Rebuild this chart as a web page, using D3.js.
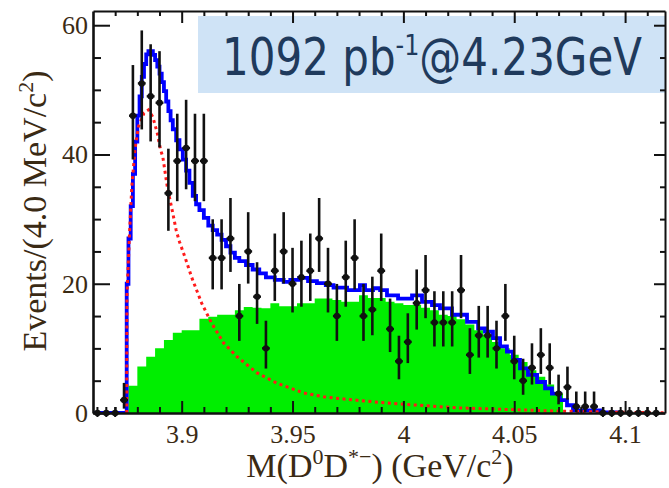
<!DOCTYPE html>
<html>
<head>
<meta charset="utf-8">
<script src="https://cdn.jsdelivr.net/npm/d3@7"></script>
<style>
  html, body { margin: 0; padding: 0; background: #fff; }
  svg { display: block; }
</style>
</head>
<body>
<div id="chart"></div>
<script>
// bins of 4 MeV, first centre at 3.862 GeV
const BIN_WIDTH = 0.004;
const DATA_FIRST_CENTRE = 3.862;
const dataCounts = [
  0, 0, 0, 2, 46, 51, 49, 48, 34, 39,
  41, 39, 39, 24, 24, 27, 15, 25, 18, 10,
  22, 25, 20, 21, 22, 27, 20, 15, 21, 24,
  15, 16, 22, 13, 8, 11, 17, 19, 14, 14,
  14, 19, 9, 12, 12, 10, 15, 8, 5, 7,
  9, 7, 3, 4, 1, 1, 1, 0, 0, 0,
  0, 0, 0, 0
];

// green background histogram (same binning, first left edge 3.876)
const BKG_FIRST_EDGE = 3.876;
const bkgValues = [
  4.2, 7.2, 8.7, 10, 11.3, 12.4, 12.8, 12.8, 14.6, 14.9,
  15.2, 15.2, 15.9, 16.4, 16.3, 16.2, 17.0, 16.5, 16.5, 17.0,
  17.0, 17.7, 17.7, 17.5, 17.2, 17.2, 18.2, 17.8, 17.8, 17.2,
  17.0, 16.7, 16.7, 16.3, 15.9, 15.2, 15.0, 14.5, 13.7, 12.8,
  12.1, 11.0, 10.0, 9.0, 7.9, 6.6, 5.6, 4.4, 3.0
];

// total fit (blue), [mass, events]
const fitTotal = [
  [3.8600, 0], [3.8751, 0], [3.8752, 20], [3.8760, 27], [3.8770, 32], [3.8780, 37],
  [3.8790, 42], [3.8800, 46], [3.8810, 49], [3.8820, 52], [3.8830, 54],
  [3.8840, 55.5], [3.8850, 56], [3.8860, 56], [3.8870, 55.4], [3.8880, 54.6],
  [3.8890, 53.6], [3.8900, 52.5], [3.8910, 51.2], [3.8920, 49.8], [3.8930, 48.2],
  [3.8940, 46.7], [3.8950, 45.3], [3.8960, 43.9], [3.8975, 42.2], [3.8990, 40.8],
  [3.9005, 39.2], [3.9020, 37.5], [3.9035, 35.6], [3.9050, 33.6], [3.9065, 32.3],
  [3.9080, 31.4], [3.9100, 30.2], [3.9120, 29.0], [3.9140, 28.3], [3.9160, 27.6],
  [3.9180, 26.8], [3.9200, 25.8], [3.9220, 24.8], [3.9240, 24.0], [3.9260, 23.5],
  [3.9290, 22.9], [3.9320, 22.2], [3.9350, 21.6], [3.9380, 21.0], [3.9420, 20.6],
  [3.9460, 20.3], [3.9490, 20.6], [3.9530, 20.9], [3.9570, 20.4], [3.9610, 20.1],
  [3.9650, 19.8], [3.9685, 19.4], [3.9746, 19.0], [3.9804, 19.8], [3.9827, 19.0],
  [3.9863, 19.3], [3.9895, 19.0], [3.9926, 18.2], [3.9976, 17.7], [4.0039, 18.2],
  [4.0084, 17.2], [4.0129, 16.7], [4.0165, 16.2], [4.0219, 15.2], [4.0287, 14.1],
  [4.0337, 13.1], [4.0368, 12.6], [4.0404, 11.6], [4.0436, 10.3], [4.0467, 9.5],
  [4.0494, 8.2], [4.0526, 6.9], [4.0562, 5.9], [4.0603, 4.8], [4.0639, 3.8],
  [4.0670, 3.0], [4.0706, 2.0], [4.0738, 1.2], [4.0765, 0.4], [4.0887, 0.1],
  [4.0977, 0]
];

// signal shape (red dotted)
const fitSignal = [
  [3.8752, 0], [3.8753, 18], [3.8765, 28], [3.8775, 35], [3.8790, 41],
  [3.8805, 44.3], [3.8830, 46.4], [3.8850, 46.9], [3.8870, 45.8], [3.8890, 43.3],
  [3.8905, 40.7], [3.8915, 39.6], [3.8935, 35.0], [3.8960, 30.9], [3.8975, 28.3],
  [3.8990, 26.5], [3.9015, 24.1], [3.9045, 21.0], [3.9090, 17.0], [3.9135, 13.9],
  [3.9190, 10.8], [3.9250, 8.7], [3.9340, 6.2], [3.9430, 4.6], [3.9550, 3.1],
  [3.9640, 2.5], [3.9750, 2.1], [3.9940, 1.5], [4.0240, 0.8], [4.0690, 0.3],
  [4.1000, 0.1], [4.1180, 0.05]
];

const xMajorTicks = [3.9, 3.95, 4.0, 4.05, 4.1];
const xTickLabels = ["3.9", "3.95", "4", "4.05", "4.1"];
const xMinorTicks = [3.87, 3.88, 3.89, 3.91, 3.92, 3.93, 3.94, 3.96, 3.97, 3.98, 3.99,
  4.01, 4.02, 4.03, 4.04, 4.06, 4.07, 4.08, 4.09, 4.11];
const yMajorTicks = [0, 20, 40, 60];
const yTickLabels = ["0", "20", "40", "60"];
const yMinorTicks = [5, 10, 15, 25, 30, 35, 45, 50, 55];

const TEXT_COLOR = "#3a2a14";
const SERIF = "'Liberation Serif', 'DejaVu Serif', serif";

const W = 669, H = 488;
const margin = { top: 11, right: 4, bottom: 75, left: 93 };
const width = W - margin.left - margin.right;
const height = H - margin.top - margin.bottom;

const root = d3.select("#chart").append("svg")
  .attr("width", W)
  .attr("height", H);

const svg = root.append("g")
  .attr("transform", `translate(${margin.left},${margin.top})`);

const x = d3.scaleLinear().domain([3.86, 4.118]).range([0, width]);
const y = d3.scaleLinear().domain([0, 62.2]).range([height, 0]);

svg.append("clipPath").attr("id", "plot-clip")
  .append("rect").attr("width", width).attr("height", height);

const plot = svg.append("g").attr("clip-path", "url(#plot-clip)");

// green background histogram
const bkgPoints = bkgValues.map((v, i) => [BKG_FIRST_EDGE + i * BIN_WIDTH, v]);
bkgPoints.push([BKG_FIRST_EDGE + bkgValues.length * BIN_WIDTH, 0]);
plot.append("path")
  .datum(bkgPoints)
  .attr("fill", "#00ee00")
  .attr("d", d3.area()
    .curve(d3.curveStepAfter)
    .x(d => x(d[0]))
    .y0(y(0))
    .y1(d => y(d[1])));

// total fit
plot.append("path")
  .datum(fitTotal)
  .attr("fill", "none")
  .attr("stroke", "#0000ff")
  .attr("stroke-width", 3.8)
  .attr("d", d3.line()
    .curve(d3.curveStepAfter)
    .x(d => x(d[0]))
    .y(d => y(d[1])));

// signal
plot.append("path")
  .datum(fitSignal)
  .attr("fill", "none")
  .attr("stroke", "#ff1a1a")
  .attr("stroke-width", 3)
  .attr("stroke-dasharray", "3,3.5")
  .attr("d", d3.line()
    .x(d => x(d[0]))
    .y(d => y(d[1])));

// data points with poisson errors
const points = dataCounts.map((n, i) => {
  const c = DATA_FIRST_CENTRE + i * BIN_WIDTH;
  const hi = n > 0 ? Math.sqrt(n + 0.75) + 1 : 0;
  const lo = n > 0 ? Math.sqrt(n - 0.25) : 0;
  return { c, n, hi, lo };
});

const pts = svg.append("g").attr("stroke", "#111").attr("fill", "#111");

pts.selectAll(".ey")
  .data(points.filter(d => d.n > 0))
  .enter().append("line")
  .attr("x1", d => x(d.c)).attr("x2", d => x(d.c))
  .attr("y1", d => y(d.n + d.hi)).attr("y2", d => y(Math.max(0, d.n - d.lo)))
  .attr("stroke-width", 2.6);

// empty bins: small cross on the axis
pts.selectAll(".e0")
  .data(points.filter(d => d.n === 0))
  .enter().append("line")
  .attr("x1", d => x(d.c)).attr("x2", d => x(d.c))
  .attr("y1", y(0) - 6).attr("y2", y(0) + 4)
  .attr("stroke-width", 2);

pts.selectAll(".ex")
  .data(points)
  .enter().append("line")
  .attr("x1", d => x(d.c - BIN_WIDTH / 2) + 0.5)
  .attr("x2", d => x(d.c + BIN_WIDTH / 2) - 0.5)
  .attr("y1", d => y(d.n)).attr("y2", d => y(d.n))
  .attr("stroke-width", 2.4);

pts.selectAll("circle")
  .data(points)
  .enter().append("circle")
  .attr("cx", d => x(d.c))
  .attr("cy", d => y(d.n))
  .attr("r", 3.2)
  .attr("stroke", "none");

// luminosity box
svg.append("rect")
  .attr("x", 198 - margin.left)
  .attr("y", 16 - margin.top)
  .attr("width", 665 - 198)
  .attr("height", 93 - 16)
  .attr("fill", "#cfe3f6");

const lumi = svg.append("text")
  .attr("x", 222 - margin.left)
  .attr("y", 75 - margin.top)
  .attr("font-family", "'DejaVu Sans', Verdana, sans-serif")
  .attr("font-size", 51)
  .attr("fill", "#1f3a5c")
  .attr("textLength", 420)
  .attr("lengthAdjust", "spacingAndGlyphs");
lumi.append("tspan").text("1092 pb");
lumi.append("tspan").attr("dy", -20).attr("font-size", 29).text("-1");
lumi.append("tspan").attr("dy", 20).text("@4.23GeV");

// axes
function styleAxis(g, domainWidth) {
  g.select(".domain").attr("stroke", "#111").attr("stroke-width", domainWidth);
  g.selectAll(".tick line").attr("stroke", "#111").attr("stroke-width", 2);
  g.selectAll(".tick text")
    .attr("fill", TEXT_COLOR)
    .attr("font-family", SERIF)
    .attr("font-size", 26);
}

function minorAxis(axis, transform) {
  const g = svg.append("g").attr("transform", transform).call(axis);
  g.select(".domain").remove();
  g.selectAll(".tick line").attr("stroke", "#111").attr("stroke-width", 2);
  return g;
}

svg.append("g")
  .attr("transform", `translate(0,${height})`)
  .call(d3.axisBottom(x).tickValues(xMajorTicks)
    .tickFormat((d, i) => xTickLabels[i])
    .tickSize(-12).tickSizeOuter(0).tickPadding(12))
  .call(g => styleAxis(g, 2.6));
minorAxis(d3.axisBottom(x).tickValues(xMinorTicks).tickFormat("").tickSize(-6).tickSizeOuter(0),
  `translate(0,${height})`);

svg.append("g")
  .call(d3.axisTop(x).tickValues(xMajorTicks).tickFormat("")
    .tickSize(-12).tickSizeOuter(0))
  .call(g => styleAxis(g, 2));
minorAxis(d3.axisTop(x).tickValues(xMinorTicks).tickFormat("").tickSize(-5).tickSizeOuter(0), null);

svg.append("g")
  .call(d3.axisLeft(y).tickValues(yMajorTicks)
    .tickFormat((d, i) => yTickLabels[i])
    .tickSize(-17).tickSizeOuter(0).tickPadding(5))
  .call(g => styleAxis(g, 2.6));
minorAxis(d3.axisLeft(y).tickValues(yMinorTicks).tickFormat("").tickSize(-8).tickSizeOuter(0), null);

svg.append("g")
  .attr("transform", `translate(${width},0)`)
  .call(d3.axisRight(y).tickValues(yMajorTicks).tickFormat("")
    .tickSize(-11).tickSizeOuter(0))
  .call(g => styleAxis(g, 2));
minorAxis(d3.axisRight(y).tickValues(yMinorTicks).tickFormat("").tickSize(-5).tickSizeOuter(0),
  `translate(${width},0)`);

// axis titles
const xt = root.append("text")
  .attr("x", 380)
  .attr("y", 477)
  .attr("text-anchor", "middle")
  .attr("font-family", SERIF)
  .attr("font-size", 34)
  .attr("fill", TEXT_COLOR);
xt.append("tspan").text("M(D");
xt.append("tspan").attr("dy", -13).attr("font-size", 22).text("0");
xt.append("tspan").attr("dy", 13).text("D");
xt.append("tspan").attr("dy", -13).attr("font-size", 22).text("*\u2212");
xt.append("tspan").attr("dy", 13).text(") (GeV/c");
xt.append("tspan").attr("dy", -13).attr("font-size", 22).text("2");
xt.append("tspan").attr("dy", 13).text(")");

const yt = root.append("text")
  .attr("transform", "translate(46,211) rotate(-90)")
  .attr("text-anchor", "middle")
  .attr("font-family", SERIF)
  .attr("font-size", 34)
  .attr("fill", TEXT_COLOR);
yt.append("tspan").text("Events/(4.0 MeV/c");
yt.append("tspan").attr("dy", -13).attr("font-size", 22).text("2");
yt.append("tspan").attr("dy", 13).text(")");
</script>
</body>
</html>
